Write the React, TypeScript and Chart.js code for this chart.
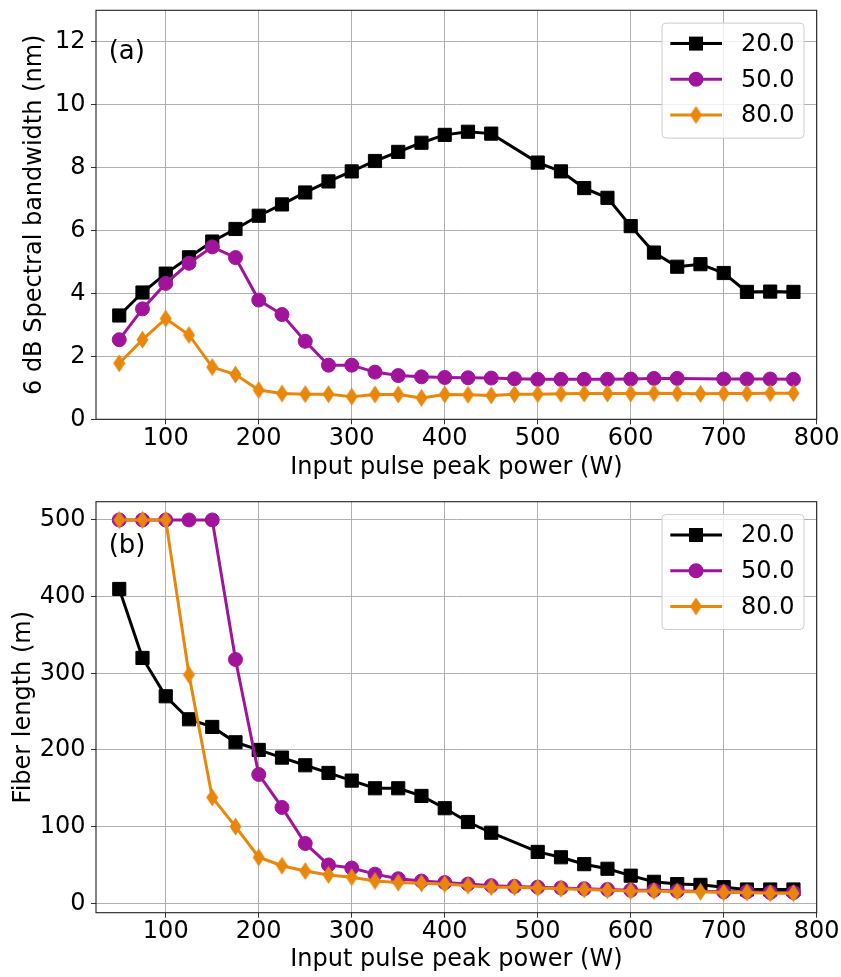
import React, { useEffect, useRef } from 'react';
import { Chart, registerables } from 'chart.js';

Chart.register(...registerables);
Chart.defaults.font.family = "'DejaVu Sans', sans-serif";

// ---------------- data ----------------
const POWER = [50, 75, 100, 125, 150, 175, 200, 225, 250, 275, 300, 325, 350, 375, 400, 425, 450, 475, 500, 525, 550, 575, 600, 625, 650, 675, 700, 725, 750, 775];

// (a) 6 dB spectral bandwidth (nm)
const BW_20 = [3.30, 4.03, 4.63, 5.15, 5.65, 6.05, 6.47, 6.83, 7.21, 7.56, 7.88, 8.21, 8.50, 8.79, 9.04, 9.14, 9.08, null, 8.16, 7.88, 7.35, 7.04, 6.14, 5.30, 4.85, 4.93, 4.65, 4.05, 4.06, 4.05];
const BW_50 = [2.53, 3.51, 4.32, 4.96, 5.48, 5.14, 3.79, 3.33, 2.48, 1.72, 1.72, 1.50, 1.39, 1.35, 1.33, 1.32, 1.31, 1.29, 1.27, 1.27, 1.27, 1.27, 1.28, 1.30, 1.30, null, 1.28, 1.28, 1.28, 1.27];
const BW_80 = [1.78, 2.53, 3.20, 2.68, 1.66, 1.42, 0.93, 0.82, 0.80, 0.80, 0.72, 0.79, 0.79, 0.68, 0.79, 0.78, 0.76, 0.80, 0.80, 0.81, 0.82, 0.82, 0.82, 0.83, 0.82, 0.81, 0.82, 0.82, 0.83, 0.83];

// (b) fiber length (m)
const LEN_20 = [410, 320, 270, 240, 230, 210, 200, 190, 180, 170, 160, 150, 150, 140, 124, 106, 92, null, 67, 60, 51, 45, 36, 28, 25, 24, 21, 18, 18, 18];
const LEN_50 = [500, 500, 500, 500, 500, 318, 168, 125, 78, 50, 46, 38, 32, 29, 27, 25, 23, 22, 21, 20, 19, 18, 17, 17, 16, null, 15, 15, 14, 14];
const LEN_80 = [500, 500, 500, 298, 138, 100, 60, 49, 42, 37, 34, 29, 27, 26, 25, 23, 21, 21, 20, 19, 18, 17, 16, 16, 15, 15, 14, 14, 13, 13];

const SERIES_LABELS = ['20.0', '50.0', '80.0'];
const X_TICKS = [100, 200, 300, 400, 500, 600, 700, 800];
const BW_TICKS = [0, 2, 4, 6, 8, 10, 12];
const LEN_TICKS = [0, 100, 200, 300, 400, 500];
const X_LABEL = 'Input pulse peak power (W)';
const BW_LABEL = '6 dB Spectral bandwidth (nm)';
const LEN_LABEL = 'Fiber length (m)';
const PANEL_A = '(a)';
const PANEL_B = '(b)';

// ---------------- styles ----------------
const COLORS = ['#000000', '#a0149b', '#e8870b'];
const FONT = "'DejaVu Sans', sans-serif";

function makeDiamond(color: string): HTMLCanvasElement {
  const c = document.createElement('canvas');
  c.width = 13;
  c.height = 19;
  const g = c.getContext('2d')!;
  g.fillStyle = color;
  g.beginPath();
  g.moveTo(6.5, 0.5);
  g.lineTo(12.5, 9.5);
  g.lineTo(6.5, 18.5);
  g.lineTo(0.5, 9.5);
  g.closePath();
  g.fill();
  return c;
}

function toPoints(values: (number | null)[]) {
  return POWER.map((x, i) => ({ x, y: values[i] }));
}

function drawMarker(ctx: CanvasRenderingContext2D, i: number, x: number, y: number, diamond: HTMLCanvasElement) {
  ctx.save();
  ctx.fillStyle = COLORS[i];
  if (i === 0) {
    ctx.fillRect(x - 7, y - 7, 14, 14);
  } else if (i === 1) {
    ctx.beginPath();
    ctx.arc(x, y, 7.5, 0, Math.PI * 2);
    ctx.fill();
  } else {
    ctx.drawImage(diamond, x - diamond.width / 2, y - diamond.height / 2);
  }
  ctx.restore();
}

interface PanelCfg {
  series: (number | null)[][];
  yMin: number;
  yMax: number;
  yTicks: number[];
  yTitle: string;
  yTitlePad: number;
  panel: string;
  panelDy: number;
  padTop: number;
  padBottom: number;
  xHeight: number;
}

function zeroPad(s: any) {
  s.paddingTop = 0;
  s.paddingBottom = 0;
  s.paddingLeft = 0;
  s.paddingRight = 0;
}

function buildChart(canvas: HTMLCanvasElement, cfg: PanelCfg) {
  const diamond = makeDiamond(COLORS[2]);
  const styles: any[] = [
    { pointStyle: 'rect', pointRadius: 9.3 },
    { pointStyle: 'circle', pointRadius: 7 },
    { pointStyle: diamond, pointRadius: 7 },
  ];
  const datasets = cfg.series.map((vals, i) => ({
    label: SERIES_LABELS[i],
    data: toPoints(vals),
    borderColor: COLORS[i],
    backgroundColor: COLORS[i],
    pointBackgroundColor: COLORS[i],
    pointBorderColor: COLORS[i],
    pointBorderWidth: i === 2 ? 0 : 1,
    borderWidth: 3,
    spanGaps: true,
    tension: 0,
    order: 3 - i,
    ...styles[i],
  }));

  const decor = {
    id: 'decor',
    afterDatasetsDraw(chart: any) {
      const { ctx, chartArea: a } = chart;
      ctx.save();
      // frame
      ctx.strokeStyle = '#222';
      ctx.lineWidth = 1.1;
      ctx.strokeRect(a.left, a.top, a.right - a.left, a.bottom - a.top);
      // panel label
      ctx.fillStyle = '#000';
      ctx.font = `26px ${FONT}`;
      ctx.textAlign = 'left';
      ctx.textBaseline = 'middle';
      ctx.fillText(cfg.panel, a.left + 12.7, a.top + cfg.panelDy);
      // legend
      const bw = 142;
      const bh = 115;
      const bx = a.right - 12.7 - bw;
      const by = a.top + 12.8;
      ctx.beginPath();
      const r = 4;
      ctx.moveTo(bx + r, by);
      ctx.lineTo(bx + bw - r, by);
      ctx.arcTo(bx + bw, by, bx + bw, by + r, r);
      ctx.lineTo(bx + bw, by + bh - r);
      ctx.arcTo(bx + bw, by + bh, bx + bw - r, by + bh, r);
      ctx.lineTo(bx + r, by + bh);
      ctx.arcTo(bx, by + bh, bx, by + bh - r, r);
      ctx.lineTo(bx, by + r);
      ctx.arcTo(bx, by, bx + r, by, r);
      ctx.closePath();
      ctx.fillStyle = 'rgba(255,255,255,0.8)';
      ctx.fill();
      ctx.strokeStyle = '#cccccc';
      ctx.lineWidth = 1;
      ctx.stroke();
      SERIES_LABELS.forEach((lab, i) => {
        const y = by + 20.5 + i * 35.7;
        ctx.strokeStyle = COLORS[i];
        ctx.lineWidth = 3;
        ctx.beginPath();
        ctx.moveTo(bx + 8.3, y);
        ctx.lineTo(bx + 60, y);
        ctx.stroke();
        drawMarker(ctx, i, bx + 34, y, diamond);
        ctx.fillStyle = '#000';
        ctx.font = `24px ${FONT}`;
        ctx.textAlign = 'left';
        ctx.textBaseline = 'middle';
        ctx.fillText(lab, bx + 79, y + 1);
      });
      ctx.restore();
    },
  };

  return new Chart(canvas, {
    type: 'line',
    data: { datasets: datasets as any },
    plugins: [decor],
    options: {
      responsive: false,
      animation: false,
      devicePixelRatio: 1,
      layout: { padding: { left: 0, right: 24.3, top: cfg.padTop, bottom: cfg.padBottom } },
      plugins: { legend: { display: false }, tooltip: { enabled: false } },
      scales: {
        x: {
          type: 'linear',
          min: 25,
          max: 800,
          afterBuildTicks: (s: any) => {
            s.ticks = X_TICKS.map((v) => ({ value: v }));
          },
          afterFit: (s: any) => {
            s.height = cfg.xHeight;
            zeroPad(s);
          },
          border: { display: false },
          grid: { color: '#b0b0b0', lineWidth: 1, tickLength: 5, tickColor: '#333', drawTicks: true },
          ticks: {
            color: '#000',
            font: { size: 24 },
            padding: 0,
            maxRotation: 0,
            autoSkip: false,
            callback: (v: any) => String(v),
          },
          title: { display: true, text: X_LABEL, color: '#000', font: { size: 24 }, padding: { top: 0, bottom: 0 } },
        },
        y: {
          type: 'linear',
          min: cfg.yMin,
          max: cfg.yMax,
          afterBuildTicks: (s: any) => {
            s.ticks = cfg.yTicks.map((v) => ({ value: v }));
          },
          afterFit: (s: any) => {
            s.width = 96;
            zeroPad(s);
          },
          border: { display: false },
          grid: { color: '#b0b0b0', lineWidth: 1, tickLength: 5, tickColor: '#333', drawTicks: true },
          ticks: {
            color: '#000',
            font: { size: 24 },
            padding: 5.5,
            autoSkip: false,
            callback: (v: any) => String(v),
          },
          title: {
            display: true,
            text: cfg.yTitle,
            color: '#000',
            font: { size: 24 },
            padding: { top: cfg.yTitlePad, bottom: 0 },
          },
        },
      },
    } as any,
  });
}

export default function App() {
  const topRef = useRef<HTMLCanvasElement>(null);
  const botRef = useRef<HTMLCanvasElement>(null);

  useEffect(() => {
    const c1 = buildChart(topRef.current!, {
      series: [BW_20, BW_50, BW_80],
      yMin: 0,
      yMax: 13,
      yTicks: BW_TICKS,
      yTitle: BW_LABEL,
      yTitlePad: 20.5,
      panel: PANEL_A,
      panelDy: 42,
      padTop: 8,
      padBottom: 0,
      xHeight: 62.7,
    });
    const c2 = buildChart(botRef.current!, {
      series: [LEN_20, LEN_50, LEN_80],
      yMin: -12.3,
      yMax: 523.8,
      yTicks: LEN_TICKS,
      yTitle: LEN_LABEL,
      yTitlePad: 9,
      panel: PANEL_B,
      panelDy: 45,
      padTop: 19.7,
      padBottom: 2.6,
      xHeight: 61.7,
    });
    return () => {
      c1.destroy();
      c2.destroy();
    };
  }, []);

  return (
    <div style={{ position: 'absolute', left: 0, top: 0, width: 841, height: 977, background: '#fff' }}>
      <canvas ref={topRef} width={841} height={482} style={{ display: 'block', width: 841, height: 482 }} />
      <canvas ref={botRef} width={841} height={495} style={{ display: 'block', width: 841, height: 495 }} />
    </div>
  );
}
